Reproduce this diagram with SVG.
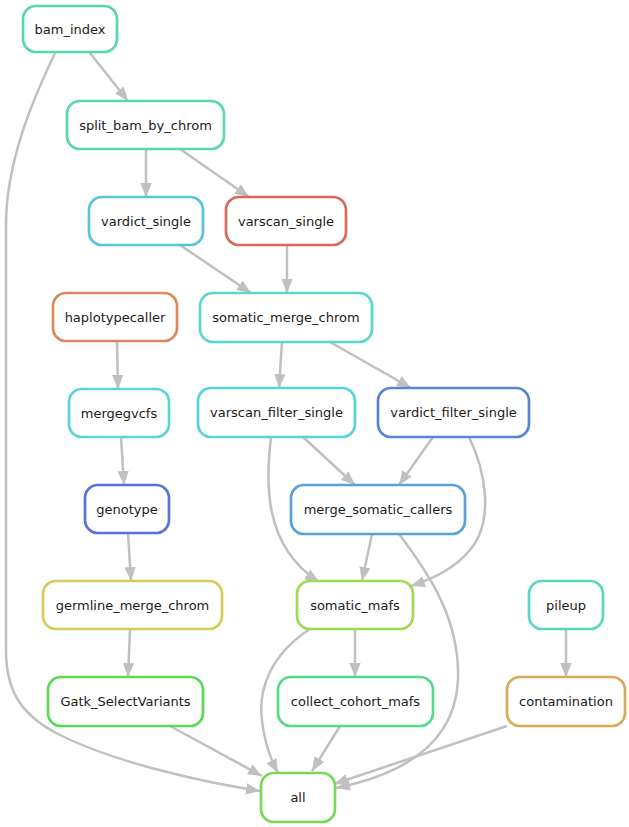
<svg xmlns="http://www.w3.org/2000/svg" width="629" height="827" viewBox="0 0 629 827">
  <style>
    .node rect { fill: #ffffff; stroke-width: 2.7; }
    .node text { font-family: "DejaVu Sans", "Liberation Sans", sans-serif; font-size: 13px; fill: #1a1a1a; text-anchor: middle; }
    .edges path { fill: none; stroke: #c0c0c0; stroke-width: 2.5; marker-end: url(#ah); }
  </style>
  <defs>
    <marker id="ah" markerUnits="userSpaceOnUse" markerWidth="16" markerHeight="14" refX="14" refY="6" orient="auto">
      <path d="M0,0.3 L14,6 L0,11.7 z" fill="#c0c0c0"/>
    </marker>
  </defs>
  <rect width="629" height="827" fill="#ffffff"/>

  <!-- dependency edges -->
  <g id="edges" class="edges">
    <path d="M90,53 L128,101"/>
    <path d="M55,53 C35,95 6,160 6,225 L6,650 C6,690 20,715 60,735 C110,760 190,780 260,791"/>
    <path d="M146,149 L146,197"/>
    <path d="M180,149 L249,197"/>
    <path d="M180,245 L251,293"/>
    <path d="M287,245 L287,293"/>
    <path d="M282,342 L279,388"/>
    <path d="M330,342 L411,388"/>
    <path d="M117,341 L118,389"/>
    <path d="M121,437 L124,485"/>
    <path d="M303,437 L355,485"/>
    <path d="M433,437 L399,485"/>
    <path d="M271,437 C266,480 262,545 319,582"/>
    <path d="M469,437 C485,470 495,520 470,550 C455,568 435,578 411,586"/>
    <path d="M372,534 L362,581"/>
    <path d="M399,534 C430,575 460,620 458,680 C455,745 400,775 336,788"/>
    <path d="M128,533 L131,581"/>
    <path d="M130,629 L128,677"/>
    <path d="M355,629 L355,677"/>
    <path d="M310,629 C270,655 258,690 262,720 C264,740 270,758 278,773"/>
    <path d="M340,726 L312,771"/>
    <path d="M170,726 L262,776"/>
    <path d="M507,726 L334,784"/>
    <path d="M566,629 L566,677"/>
  </g>

  <g id="bam_index" class="node"><rect x="23" y="6" width="94" height="46" rx="13" stroke="#57d9a3"/><text x="70" y="33.5">bam_index</text></g>
  <g id="split_bam_by_chrom" class="node"><rect x="67" y="101" width="157" height="48" rx="13" stroke="#57d9a8"/><text x="145.5" y="129.5">split_bam_by_chrom</text></g>
  <g id="vardict_single" class="node"><rect x="89" y="197" width="114" height="48" rx="13" stroke="#57c4d9"/><text x="146" y="225.5">vardict_single</text></g>
  <g id="varscan_single" class="node"><rect x="226" y="197" width="120" height="48" rx="13" stroke="#d96a57"/><text x="286" y="225.5">varscan_single</text></g>
  <g id="somatic_merge_chrom" class="node"><rect x="200" y="293" width="172" height="49" rx="13" stroke="#57d9ca"/><text x="286" y="321.5">somatic_merge_chrom</text></g>
  <g id="haplotypecaller" class="node"><rect x="53" y="293" width="124" height="48" rx="13" stroke="#d98a57"/><text x="115" y="321.5">haplotypecaller</text></g>
  <g id="mergegvcfs" class="node"><rect x="69" y="389" width="100" height="48" rx="13" stroke="#57d5d9"/><text x="119" y="417.5">mergegvcfs</text></g>
  <g id="varscan_filter_single" class="node"><rect x="198" y="388" width="157" height="49" rx="13" stroke="#57d3d9"/><text x="276.5" y="417">varscan_filter_single</text></g>
  <g id="vardict_filter_single" class="node"><rect x="378" y="388" width="151" height="49" rx="13" stroke="#5786d9"/><text x="453.5" y="417">vardict_filter_single</text></g>
  <g id="merge_somatic_callers" class="node"><rect x="291" y="485" width="174" height="49" rx="13" stroke="#57a3d9"/><text x="378" y="513.5">merge_somatic_callers</text></g>
  <g id="genotype" class="node"><rect x="85" y="485" width="84" height="48" rx="13" stroke="#5773d9"/><text x="127" y="513.5">genotype</text></g>
  <g id="germline_merge_chrom" class="node"><rect x="43" y="581" width="179" height="48" rx="13" stroke="#d9cb57"/><text x="132.5" y="609.5">germline_merge_chrom</text></g>
  <g id="somatic_mafs" class="node"><rect x="297" y="581" width="116" height="48" rx="13" stroke="#9ed957"/><text x="355" y="609.5">somatic_mafs</text></g>
  <g id="pileup" class="node"><rect x="529" y="581" width="74" height="48" rx="13" stroke="#57d9bd"/><text x="566" y="609.5">pileup</text></g>
  <g id="Gatk_SelectVariants" class="node"><rect x="48" y="677" width="155" height="49" rx="13" stroke="#5cd957"/><text x="125.5" y="705.5">Gatk_SelectVariants</text></g>
  <g id="collect_cohort_mafs" class="node"><rect x="278" y="677" width="155" height="49" rx="13" stroke="#57d98d"/><text x="355.5" y="705.5">collect_cohort_mafs</text></g>
  <g id="contamination" class="node"><rect x="507" y="677" width="118" height="49" rx="13" stroke="#d9aa57"/><text x="566" y="705.5">contamination</text></g>
  <g id="all" class="node"><rect x="261" y="773" width="74" height="49" rx="13" stroke="#78d957"/><text x="298" y="801.5">all</text></g>
</svg>
